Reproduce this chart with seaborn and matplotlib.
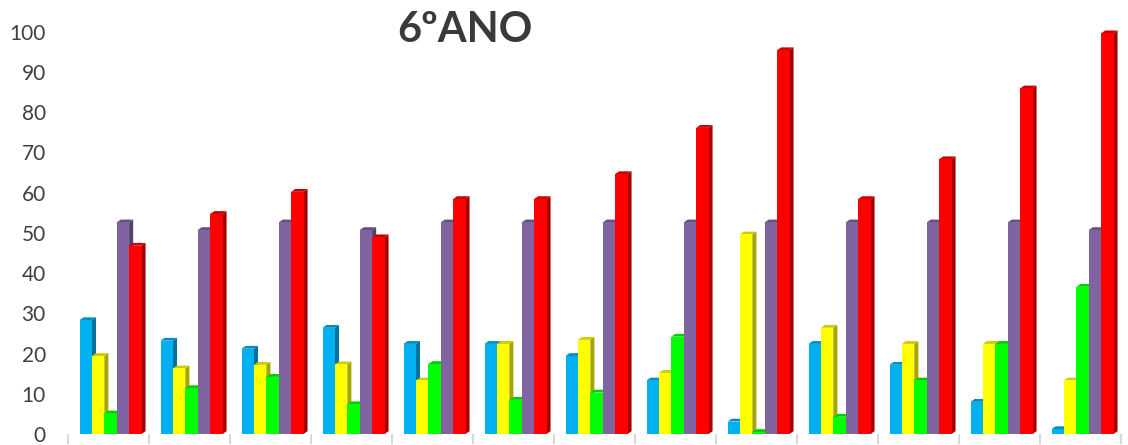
import pandas as pd
import numpy as np
import matplotlib
matplotlib.use('Agg')
import matplotlib.pyplot as plt
import matplotlib.colors as mcolors
from matplotlib.patches import Polygon
import seaborn as sns

# values (13 groups, 5 series)
grupos = [str(i) for i in range(1, 14)]
series = ['Azul', 'Amarelo', 'Verde', 'Roxo', 'Vermelho']
azul = [28.3, 23.2, 21.2, 26.4, 22.4, 22.4, 19.4, 13.3, 3.1, 22.4, 17.2, 8.0, 1.2]
amarelo = [19.4, 16.3, 17.2, 17.3, 13.3, 22.4, 23.4, 15.2, 49.6, 26.4, 22.4, 22.4, 13.3]
verde = [5.1, 11.4, 14.2, 7.4, 17.4, 8.5, 10.3, 24.2, 0.5, 4.3, 13.3, 22.4, 36.6]
roxo = [52.6, 50.7, 52.6, 50.7, 52.6, 52.6, 52.6, 52.6, 52.6, 52.6, 52.6, 52.6, 50.7]
vermelho = [46.8, 54.7, 60.2, 48.9, 58.4, 58.4, 64.6, 76.1, 95.4, 58.4, 68.3, 85.9, 99.6]
cores = ['#00B0F0', '#FFFF00', '#00FF00', '#8064A2', '#FF0000']

df = pd.DataFrame({
    'grupo': grupos * 5,
    'serie': np.repeat(series, len(grupos)),
    'valor': azul + amarelo + verde + roxo + vermelho,
})

sns.set_style('white')
plt.rcParams['font.family'] = ['Lato', 'DejaVu Sans']

fig = plt.figure(figsize=(11.28, 4.45), dpi=100)
ax = fig.add_axes([68 / 1128, 11 / 445, 1053 / 1128, 402.3 / 445])

sns.barplot(data=df, x='grupo', y='valor', hue='serie', palette=cores,
            saturation=1, width=0.765, linewidth=0, legend=False, ax=ax, zorder=3)


def shade(c, f):
    r, g, b = mcolors.to_rgb(c)
    return (r * f, g * f, b * f)


# fake 3D: side face and top cap behind each front face
# (bars nudged a little right, like the perspective in the original)
dx, dy = 0.05, 0.7
for cont, cor in zip(ax.containers, cores):
    for bar in cont:
        bar.set_x(bar.get_x() + 0.025)
        x0, w, h = bar.get_x(), bar.get_width(), bar.get_height()
        side = Polygon([(x0 + w, 0), (x0 + w + dx, dy), (x0 + w + dx, h + dy), (x0 + w, h)],
                       closed=True, facecolor=shade(cor, 0.65), edgecolor='none',
                       zorder=2, clip_on=False)
        top = Polygon([(x0, h), (x0 + dx, h + dy), (x0 + w + dx, h + dy), (x0 + w, h)],
                      closed=True, facecolor=shade(cor, 0.8), edgecolor='none',
                      zorder=2, clip_on=False)
        ax.add_patch(side)
        ax.add_patch(top)

ax.set_xlim(-0.5, len(grupos) - 0.5)
ax.set_ylim(0, 100)
ax.set_yticks(range(0, 101, 10))
ax.set_xlabel('')
ax.set_ylabel('')
ax.set_xticks([])
ax.set_xticks(np.arange(-0.5, len(grupos), 1), minor=True)
ax.tick_params(axis='x', which='minor', direction='out', length=7, width=1.5,
               color='#D9D9D9', labelbottom=False, bottom=True, pad=0)
ax.tick_params(axis='y', length=0, pad=16, labelsize=15, labelcolor='#404040')
for s in ax.spines.values():
    s.set_visible(False)
for lab in ax.get_yticklabels():
    lab.set_clip_on(False)

fig.text(465 / 1128, 1 - 30 / 445, '6ºANO', ha='center', va='center',
         fontsize=30, fontweight='bold', color='#3A3A3A')

fig.savefig('out.png', dpi=100)
